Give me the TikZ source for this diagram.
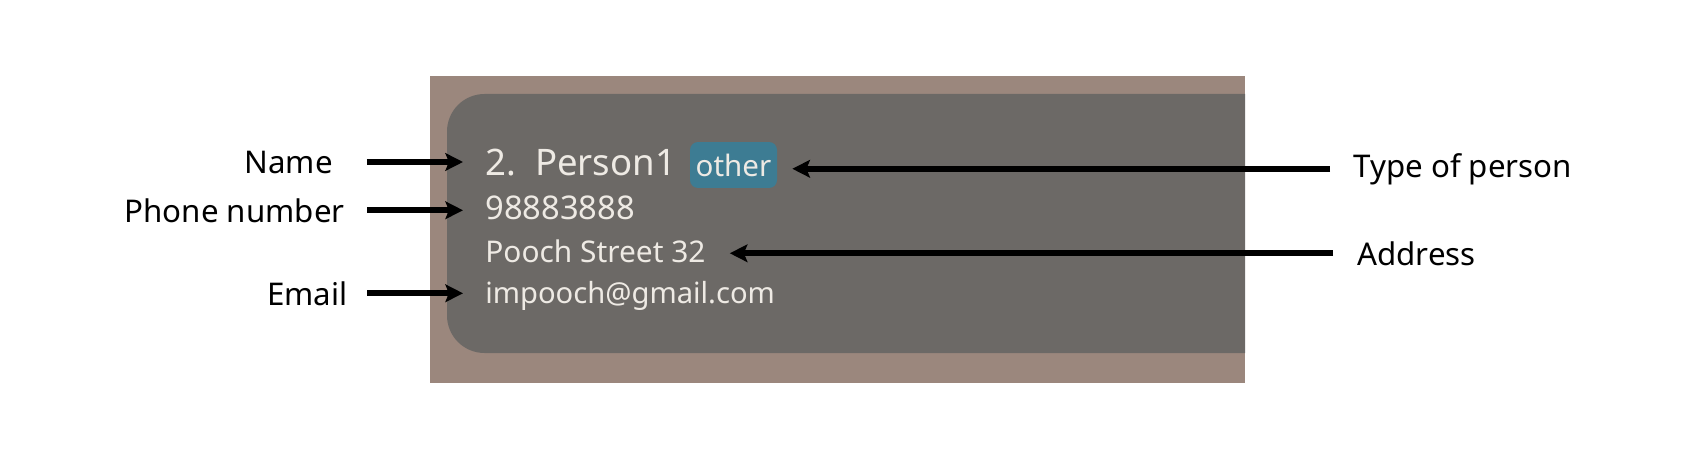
\documentclass[tikz,border=0pt]{standalone}
\usepackage{fontspec}
\setmainfont{Noto Sans}
\usepackage{tikz}
\usetikzlibrary{arrows.meta, positioning}
\usepackage{xcolor}
\definecolor{frame}{HTML}{9B877D}
\definecolor{card}{HTML}{6C6966}
\definecolor{cardtext}{HTML}{EEEAE4}
\definecolor{tagteal}{HTML}{3D7C93}
\tikzset{
  label/.style={inner sep=0pt, font=\fontsize{17.8}{21}\selectfont, text=black},
  cardline/.style={inner sep=0pt, anchor=base west, text=cardtext,
                   font=\fontsize{17}{20}\selectfont},
  tagbox/.style={fill=tagteal, rounded corners=0.16cm, inner sep=0pt,
                 minimum width=1.74cm, minimum height=0.92cm, text=cardtext,
                 font=\fontsize{16.8}{20}\selectfont},
  arrow/.style={-{Stealth[length=10pt, width=10pt, inset=2pt]},
                line width=3.4pt, draw=black},
}
\begin{document}
\begin{tikzpicture}[x=0.02cm, y=-0.02cm]

  \useasboundingbox (0,0) rectangle (1702,466);

  %% Screenshot frame
  \fill[frame] (430,76) rectangle (1245,383);
  \fill[card, rounded corners=0.75cm]
    (1245,94) -- (447,94) -- (447,353) -- (1245,353);

  %% Card contents
  \node[cardline, font=\fontsize{20.8}{24}\selectfont] (txtName) at (485,175) {2.\ \ Person1};
  \node[tagbox] (tag) at (733.5,165) {other};
  \node[cardline, font=\fontsize{18.6}{20}\selectfont] (txtPhone) at (485,219) {98883888};
  \node[cardline] (txtAddr)  at (485,262) {Pooch Street 32};
  \node[cardline, font=\fontsize{16.6}{20}\selectfont] (txtEmail) at (485,303) {impooch@gmail.com};

  %% Left labels
  \node[label, anchor=base east] (lblName)  at (333,173) {Name};
  \node[label, anchor=base east] (lblPhone) at (345,222) {Phone number};
  \node[label, anchor=base east] (lblEmail) at (348,305) {Email};

  %% Right labels
  \node[label, anchor=base west] (lblType) at (1353,177) {Type of person};
  \node[label, anchor=base west] (lblAddr) at (1357,265) {Address};

  %% Arrows
  \draw[arrow, shorten <=0.68cm, shorten >=0.44cm]
    (lblName.east) -- (lblName.east -| txtName.west);
  \draw[arrow, shorten <=0.44cm, shorten >=0.44cm]
    (lblPhone.east) -- (lblPhone.east -| txtPhone.west);
  \draw[arrow, shorten <=0.38cm, shorten >=0.44cm]
    (lblEmail.east) -- (lblEmail.east -| txtEmail.west);
  \draw[arrow, shorten <=0.46cm, shorten >=0.30cm]
    (lblType.west) -- (lblType.west -| tag.east);
  \draw[arrow, shorten <=0.48cm, shorten >=0.48cm]
    (lblAddr.west) -- (lblAddr.west -| txtAddr.east);

\end{tikzpicture}
\end{document}
